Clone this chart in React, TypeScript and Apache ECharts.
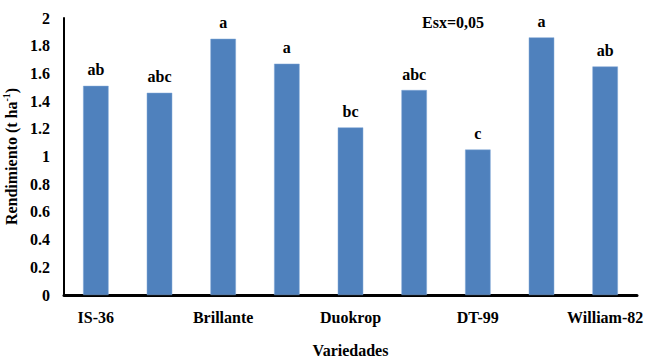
import React, { useEffect, useRef } from "react";
import * as echarts from "echarts";

const categories = ["IS-36", "V2", "Brillante", "V4", "Duokrop", "V6", "DT-99", "V8", "William-82"];
const values = [1.51, 1.46, 1.85, 1.67, 1.21, 1.48, 1.05, 1.86, 1.65];
const letters = ["ab", "abc", "a", "a", "bc", "abc", "c", "a", "ab"];

const FONT = "Liberation Serif";

export default function App() {
  const ref = useRef<HTMLDivElement>(null);
  useEffect(() => {
    if (!ref.current) return;
    const chart = echarts.init(ref.current, null, { renderer: "svg" });
    chart.setOption({
      animation: false,
      backgroundColor: "#ffffff",
      textStyle: { fontFamily: FONT },
      grid: { left: 64, right: 25, top: 18, bottom: 63, containLabel: false, outerBoundsMode: "none" },
      xAxis: {
        type: "category",
        data: categories,
        name: "Variedades",
        nameLocation: "middle",
        nameGap: 47,
        nameTextStyle: { fontFamily: FONT, fontWeight: 700, fontSize: 16, color: "#000" },
        axisLine: { lineStyle: { color: "#000", width: 3 } },
        axisTick: { show: false },
        axisLabel: {
          interval: 1,
          fontFamily: FONT,
          fontWeight: 700,
          fontSize: 16,
          color: "#000",
          margin: 14,
        },
      },
      yAxis: {
        type: "value",
        min: 0,
        max: 2,
        interval: 0.2,
        name: "{m|Rendimiento (t ha}{s|-1}{m|)}",
        nameLocation: "middle",
        nameGap: 43,
        nameTextStyle: {
          fontFamily: FONT,
          fontWeight: 700,
          fontSize: 16,
          color: "#000",
          rich: {
            m: { fontFamily: FONT, fontWeight: 700, fontSize: 16, color: "#000", verticalAlign: "bottom", lineHeight: 18 },
            s: { fontFamily: FONT, fontWeight: 700, fontSize: 10, color: "#000", verticalAlign: "top", lineHeight: 18 },
          },
        },
        axisLine: { show: true, lineStyle: { color: "#000", width: 2 } },
        axisTick: { show: false },
        splitLine: { show: false },
        axisLabel: {
          fontFamily: FONT,
          fontWeight: 700,
          fontSize: 16,
          color: "#000",
          margin: 14,
        },
      },
      series: [
        {
          type: "bar",
          data: values,
          barWidth: "40%",
          itemStyle: { color: "#4F81BD", borderColor: "#7fa6d6", borderWidth: 0.5 },
          label: {
            show: true,
            position: "top",
            distance: 8,
            formatter: (p: any) => letters[p.dataIndex],
            fontFamily: FONT,
            fontWeight: 700,
            fontSize: 16,
            color: "#000",
          },
        },
      ],
      graphic: [
        {
          type: "text",
          left: 422,
          top: 14,
          style: {
            text: "Esx=0,05",
            fontFamily: FONT,
            fontWeight: 700,
            fontSize: 16,
            fill: "#000",
          },
        },
      ],
    });
    return () => chart.dispose();
  }, []);
  return <div ref={ref} style={{ width: 662, height: 358, position: "fixed", left: 0, top: 0 }} />;
}
